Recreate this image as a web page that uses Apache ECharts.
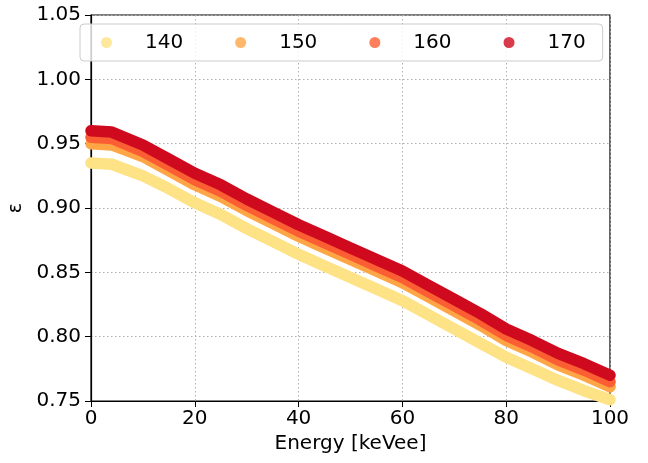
<!DOCTYPE html>
<html>
<head>
<meta charset="utf-8">
<script src="https://cdn.jsdelivr.net/npm/echarts@6/dist/echarts.min.js"></script>
<style>
html,body{margin:0;padding:0;background:#fff;}
#chart{width:648px;height:463px;}
</style>
</head>
<body>
<div id="chart"></div>
<script>
const energy = [0,4,10,15,20,25,30,35,40,45,50,55,60,65,70,75,80,85,90,95,100];
const eps140 = [0.935,0.934,0.925,0.915,0.904,0.895,0.884,0.874,0.864,0.855,0.846,0.837,0.828,0.817,0.806,0.795,0.784,0.775,0.766,0.758,0.751];
const eps150 = [0.950,0.949,0.940,0.929,0.918,0.909,0.898,0.888,0.878,0.869,0.860,0.851,0.842,0.831,0.820,0.809,0.797,0.788,0.778,0.770,0.761];
const eps160 = [0.955,0.954,0.944,0.933,0.922,0.913,0.902,0.892,0.882,0.873,0.864,0.855,0.846,0.835,0.824,0.813,0.801,0.792,0.782,0.774,0.765];
const eps170 = [0.960,0.959,0.949,0.938,0.927,0.918,0.907,0.897,0.887,0.878,0.869,0.860,0.851,0.840,0.829,0.818,0.806,0.797,0.787,0.779,0.770];
const seriesNames = ['140','150','160','170'];
const seriesColors = ['#fee286','#fea646','#fb5e32','#d00a1e'];
const seriesData = [eps140, eps150, eps160, eps170];

const font = 'DejaVu Sans';
const chart = echarts.init(document.getElementById('chart'), null, {renderer:'canvas'});
const option = {
  animation: false,
  backgroundColor: '#ffffff',
  grid: {left: 91, right: 38, top: 15, bottom: 62, containLabel: false, outerBoundsMode: 'none',
         show: true, borderColor: '#000', borderWidth: 1.2, backgroundColor: 'transparent'},
  legend: {
    left: 80, top: 24,
    padding: [8, 17, 8, 21],
    itemWidth: 11, itemHeight: 11, itemGap: 52,
    icon: 'circle',
    borderColor: '#cccccc', borderWidth: 1, borderRadius: 4,
    backgroundColor: 'rgba(255,255,255,0.8)',
    textStyle: {fontFamily: font, fontSize: 20, lineHeight: 21, color: '#000', padding: [0,0,0,28]},
    data: seriesNames.map((n) => ({name: n, itemStyle: {opacity: 0.8}}))
  },
  xAxis: {
    type: 'value', min: 0, max: 100, interval: 20,
    name: 'Energy [keVee]', nameLocation: 'middle', nameGap: 30,
    nameTextStyle: {fontFamily: font, fontSize: 20, color: '#000', verticalAlign: 'top'},
    axisLine: {show: true, lineStyle: {color: '#000', width: 1.2}},
    axisTick: {show: true, length: 6, lineStyle: {color: '#000'}},
    axisLabel: {fontFamily: font, fontSize: 20, color: '#000', margin: 8},
    splitLine: {show: true, lineStyle: {color: '#b0b0b0', type: [1.5, 2.5], width: 1}}
  },
  yAxis: {
    type: 'value', min: 0.75, max: 1.05, interval: 0.05,
    name: 'ε', nameLocation: 'middle', nameGap: 64, nameRotate: 90,
    nameTextStyle: {fontFamily: font, fontSize: 19, color: '#000'},
    axisLine: {show: true, lineStyle: {color: '#000', width: 1.2}},
    axisTick: {show: true, length: 6, lineStyle: {color: '#000'}},
    axisLabel: {fontFamily: font, fontSize: 20, color: '#000', margin: 10, formatter: (v) => v.toFixed(2)},
    splitLine: {show: true, lineStyle: {color: '#b0b0b0', type: [1.5, 2.5], width: 1}}
  },
  series: seriesNames.map((n, i) => ({
    name: n, type: 'line', showSymbol: false, symbol: 'circle',
    color: seriesColors[i],
    lineStyle: {width: 11.5, color: seriesColors[i], cap: 'round', join: 'round'},
    itemStyle: {color: seriesColors[i]},
    data: energy.map((x, k) => [x, seriesData[i][k]]),
    z: 2 + i, clip: true
  }))
};
chart.setOption(option);
</script>
</body>
</html>
